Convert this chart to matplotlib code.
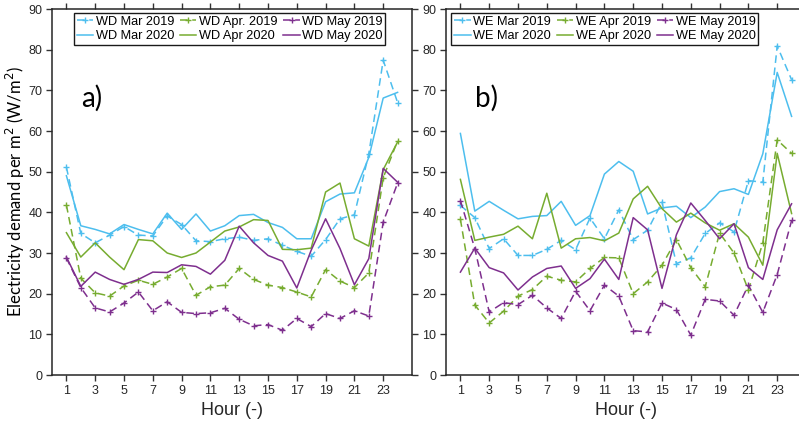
import matplotlib
matplotlib.use("Agg")
import matplotlib.pyplot as plt
from matplotlib import font_manager

hours = list(range(1, 25))

# Panel a) weekdays
wd_mar_2019 = [51.1, 34.8, 32.5, 34.4, 36.5, 34.4, 34.2, 39.1, 37.0, 33.0, 32.8, 33.5,
               33.9, 33.1, 33.5, 31.9, 30.4, 29.2, 33.3, 38.4, 39.4, 54.4, 77.4, 67.0]
wd_apr_2019 = [41.8, 23.8, 20.2, 19.4, 21.9, 23.3, 22.3, 24.1, 26.2, 19.6, 21.7, 22.1,
               26.2, 23.5, 22.1, 21.5, 20.4, 19.2, 25.9, 23.1, 21.5, 25.1, 48.5, 57.6]
wd_may_2019 = [28.8, 21.5, 16.5, 15.5, 17.7, 20.4, 15.8, 18.0, 15.4, 15.1, 15.3, 16.4,
               13.7, 12.1, 12.4, 11.0, 13.9, 11.9, 15.1, 13.9, 15.8, 14.5, 37.6, 47.2]
wd_mar_2020 = [49.0, 36.7, 35.8, 34.7, 37.0, 35.8, 34.7, 39.8, 35.8, 39.6, 35.4, 36.7,
               39.2, 39.5, 37.5, 36.3, 33.5, 33.5, 42.6, 44.5, 44.8, 53.5, 68.1, 69.5]
wd_apr_2020 = [35.0, 29.0, 32.5, 29.0, 25.9, 33.3, 33.0, 30.0, 28.9, 30.0, 32.7, 35.4,
               36.4, 38.2, 38.0, 30.9, 30.8, 31.2, 45.0, 47.2, 33.5, 31.7, 50.5, 57.3]
wd_may_2020 = [29.0, 21.8, 25.3, 23.5, 22.3, 23.5, 25.3, 25.2, 27.1, 26.7, 24.8, 28.2,
               36.6, 32.5, 29.4, 28.0, 21.4, 30.7, 38.4, 31.1, 22.2, 28.6, 50.8, 47.4]

# Panel b) weekends
we_mar_2019 = [41.7, 38.7, 31.1, 33.5, 29.4, 29.4, 30.9, 33.1, 30.8, 38.6, 33.5, 40.6,
               33.3, 35.6, 42.5, 27.4, 28.8, 34.8, 37.4, 35.2, 47.8, 47.4, 80.9, 72.6]
we_apr_2019 = [38.3, 17.2, 12.8, 15.7, 19.4, 21.0, 24.3, 23.3, 22.9, 26.2, 28.9, 28.8,
               20.0, 22.9, 27.0, 33.3, 26.4, 21.7, 34.9, 30.0, 20.9, 32.5, 57.8, 54.5]
we_may_2019 = [42.9, 31.1, 15.5, 17.8, 17.3, 19.6, 16.5, 13.9, 20.6, 15.8, 22.1, 19.4,
               10.9, 10.6, 17.7, 16.1, 9.8, 18.6, 18.2, 14.7, 22.1, 15.4, 24.7, 38.0]
we_mar_2020 = [59.4, 40.3, 42.7, 40.5, 38.4, 39.0, 39.2, 42.7, 36.8, 39.2, 49.4, 52.5,
               50.1, 39.6, 41.1, 41.5, 38.7, 41.3, 45.1, 45.8, 44.4, 54.4, 74.4, 63.6]
we_apr_2020 = [48.1, 33.1, 33.9, 34.6, 36.6, 33.5, 44.7, 31.2, 33.5, 33.8, 33.0, 34.9,
               43.3, 46.4, 40.9, 37.6, 39.8, 37.4, 35.6, 37.2, 33.9, 27.0, 54.5, 39.7]
we_may_2020 = [25.3, 31.2, 26.4, 25.1, 20.9, 24.1, 26.2, 26.8, 21.3, 23.7, 28.5, 23.5,
               38.7, 35.7, 21.3, 34.5, 42.3, 38.0, 33.5, 37.2, 26.4, 23.5, 35.7, 42.1]

wd_labels_2019 = ["WD Mar 2019", "WD Apr. 2019", "WD May 2019"]
wd_labels_2020 = ["WD Mar 2020", "WD Apr 2020", "WD May 2020"]
we_labels_2019 = ["WE Mar 2019", "WE Apr 2019", "WE May 2019"]
we_labels_2020 = ["WE Mar 2020", "WE Apr 2020", "WE May 2020"]

xticks = list(range(1, 24, 2))
yticks = list(range(0, 91, 10))

colors = ["#4DBEEE", "#77AC30", "#7E2F8E"]

names = {f.name for f in font_manager.fontManager.ttflist}
narrow = "Liberation Sans Narrow" if "Liberation Sans Narrow" in names else "Liberation Sans"
tick_size = 10 if narrow == "Liberation Sans Narrow" else 9
plt.rcParams["font.family"] = ["Liberation Sans", "DejaVu Sans"]

W, H = 799, 426
fig = plt.figure(figsize=(W / 100, H / 100), dpi=100)


def px_axes(x0, x1, y0, y1):
    return fig.add_axes([x0 / W, 1 - y1 / H, (x1 - x0) / W, (y1 - y0) / H])


def draw(ax, s2019, s2020, l2019, l2020, tag):
    handles = []
    for d19, d20, c, n19, n20 in zip(s2019, s2020, colors, l2019, l2020):
        h19, = ax.plot(hours, d19, linestyle=(0, (5, 3)), color=c, lw=1.1,
                       marker="+", ms=4, mew=1.0, label=n19)
        h20, = ax.plot(hours, d20, linestyle="-", color=c, lw=1.1, label=n20)
        handles += [h19, h20]
    ax.set_xlim(0, 25)
    ax.set_ylim(0, 90)
    ax.set_xticks(xticks)
    ax.set_yticks(yticks)
    ax.tick_params(direction="out", length=4, width=1.0, color="0.2",
                   top=True, right=True, labelsize=tick_size, pad=3)
    for lab in ax.get_xticklabels() + ax.get_yticklabels():
        lab.set_fontfamily(narrow)
        lab.set_color("0.15")
    for sp in ax.spines.values():
        sp.set_color("0.15")
        sp.set_linewidth(1.1)
    ax.set_xlabel("Hour (-)", fontfamily=narrow, fontsize=13, color="0.15", labelpad=4)
    ax.text(2.0, 68, tag, fontsize=20, fontfamily="Lato", va="center", ha="left")
    leg = ax.legend(handles=handles, ncol=3, loc="upper left",
                    bbox_to_anchor=(0.061, 0.989), borderaxespad=0,
                    fontsize=9.2, handlelength=1.3, handletextpad=0.2,
                    columnspacing=0.45, labelspacing=0.2, borderpad=0.2,
                    fancybox=False, framealpha=1, edgecolor="0.1")
    leg.get_frame().set_linewidth(1.0)
    return ax


axa = px_axes(52, 412, 9, 375)
draw(axa, [wd_mar_2019, wd_apr_2019, wd_may_2019],
     [wd_mar_2020, wd_apr_2020, wd_may_2020], wd_labels_2019, wd_labels_2020, "a)")
axa.set_ylabel("Electricity demand per m$^2$ (W/m$^2$)", fontfamily="Lato",
               fontsize=12, labelpad=1)

axb = px_axes(446, 806, 9, 375)
draw(axb, [we_mar_2019, we_apr_2019, we_may_2019],
     [we_mar_2020, we_apr_2020, we_may_2020], we_labels_2019, we_labels_2020, "b)")
axb.get_legend().set_bbox_to_anchor((0.015, 0.989))

fig.savefig("out.png", dpi=100)
